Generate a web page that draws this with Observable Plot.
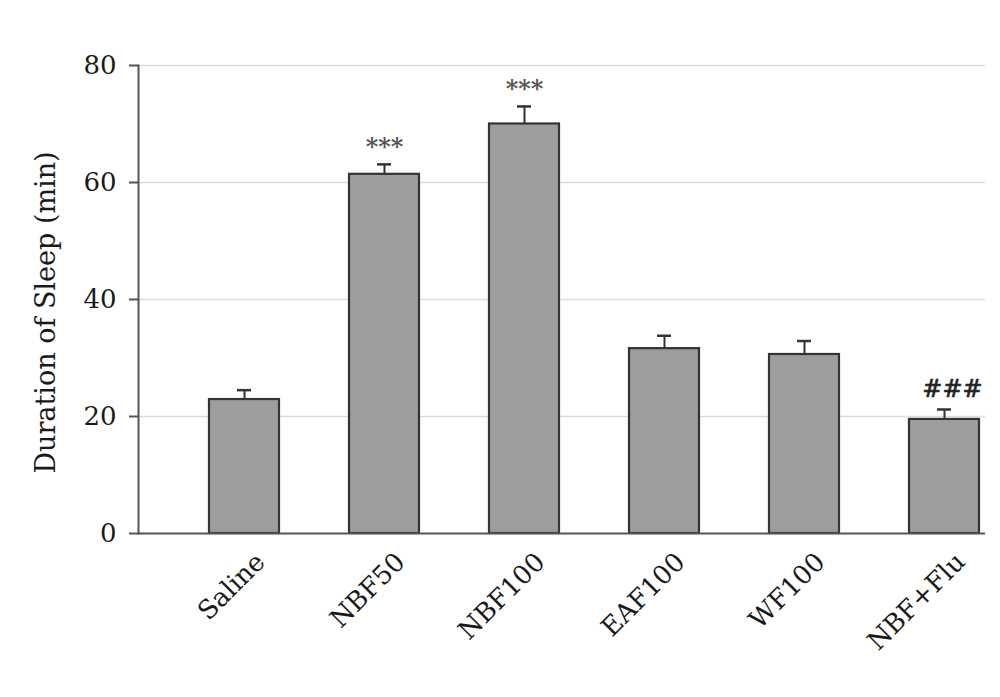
<!DOCTYPE html>
<html>
<head>
<meta charset="utf-8">
<script src="https://cdn.jsdelivr.net/npm/d3@7"></script>
<script src="https://cdn.jsdelivr.net/npm/@observablehq/plot@0.6"></script>
<style>
  html, body { margin: 0; padding: 0; background: #fff; }
  #chart svg { display: block; }
</style>
</head>
<body>
<div id="chart"></div>
<script>
// ---- data ----
const groups = ["Saline", "NBF50", "NBF100", "EAF100", "WF100", "NBF+Flu"];
const means  = [22.9, 61.4, 70.0, 31.6, 30.6, 19.5];
const errors = [1.6, 1.7, 3.0, 2.2, 2.3, 1.7];
const signif = ["", "***", "***", "", "", "###"];
const yTicks = [0, 20, 40, 60, 80];
const yLabel = "Duration of Sleep (min)";

const data = groups.map((g, i) => ({
  group: g, value: means[i], hi: means[i] + errors[i], sig: signif[i]
}));

const W = 1000, H = 697;
const mL = 138, mR = 15, mT = 65, mB = 164;
const step = 140.4;
const font = "DejaVu Serif";

const chart = Plot.plot({
  width: W,
  height: H,
  marginLeft: mL,
  marginRight: mR,
  marginTop: mT,
  marginBottom: mB,
  style: { fontFamily: font, fontSize: "25px", color: "#222", background: "#fff" },
  x: { domain: groups, range: [mL, mL + 6.5 * step], padding: 0.5, axis: null },
  y: { domain: [0, 80], axis: null },
  marks: [
    Plot.gridY(yTicks.filter(d => d > 0), { stroke: "#dcdcdc", strokeOpacity: 1, strokeWidth: 1.5 }),
    Plot.axisY({ ticks: yTicks, tickSize: 9, tickPadding: 13, stroke: "#555", strokeWidth: 2, label: null, fill: "#1a1a1a", fontSize: 26 }),
    Plot.barY(data, { x: "group", y: "value", fill: "#9d9d9f", stroke: "#333", strokeWidth: 2.2 }),
    Plot.ruleX(data, { x: "group", y1: "value", y2: "hi", stroke: "#333", strokeWidth: 2 }),
    Plot.tickY(data, { x: "group", y: "hi", insetLeft: 28, insetRight: 28, stroke: "#333", strokeWidth: 2.5 }),
    Plot.ruleY([0], { stroke: "#555", strokeWidth: 2 }),
    Plot.frame({ anchor: "left", stroke: "#555", strokeWidth: 2 }),
    Plot.text(data.filter(d => d.sig === "***"), {
      x: "group", y: "hi", text: "sig", lineAnchor: "bottom", dy: -9,
      fontSize: 24, fontWeight: "bold", fill: "#555"
    }),
    Plot.text(data.filter(d => d.sig === "###"), {
      x: "group", y: "hi", text: "sig", lineAnchor: "bottom", dy: -12, dx: 8,
      fontSize: 24, fill: "#222", stroke: "#222", strokeWidth: 0.6
    }),
    Plot.text(groups, {
      x: d => d, text: d => d, frameAnchor: "bottom", rotate: -45,
      textAnchor: "end", lineAnchor: "bottom", dx: 22, dy: 30, fontSize: 26, fill: "#1a1a1a"
    }),
    Plot.text([yLabel], {
      text: d => d, frameAnchor: "left", rotate: -90, dx: -92, dy: 13,
      fontSize: 27, fill: "#1a1a1a", textAnchor: "middle"
    })
  ]
});

document.getElementById("chart").appendChild(chart);
</script>
</body>
</html>
